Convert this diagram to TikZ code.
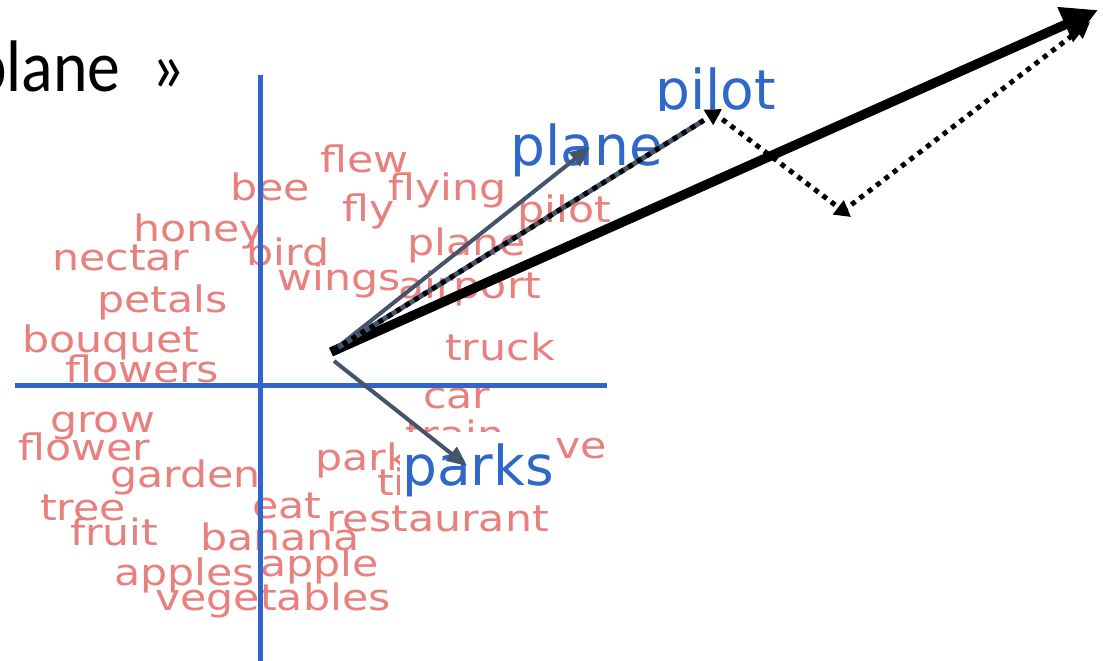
\documentclass[tikz,border=0pt]{standalone}
\usepackage{fontspec}
\usetikzlibrary{arrows.meta,calc}
\newfontfamily\cloudfont[FakeStretch=1.17]{DejaVu Sans}
\newfontfamily\labfont{DejaVu Sans}
\newfontfamily\slidefont[FakeStretch=0.9]{Carlito}
\definecolor{wordred}{RGB}{232,128,126}
\definecolor{labblue}{RGB}{46,104,200}
\definecolor{axisblue}{RGB}{48,102,204}
\definecolor{vecgray}{RGB}{68,84,106}
\begin{document}
\begin{tikzpicture}[x=1pt,y=-1pt,
  cw/.style={font=\cloudfont\fontsize{36.5}{40}\selectfont, text=wordred, anchor=base west, inner sep=0pt},
  lab/.style={font=\labfont\fontsize{55}{60}\selectfont, text=labblue, anchor=base west, inner sep=0pt},
  axisline/.style={draw=axisblue, line width=5pt},
  grayvec/.style={draw=vecgray, line width=4pt, -{Triangle[length=20pt,width=17pt]}},
  dotvec/.style={draw=black, line width=5pt, dash pattern=on 5pt off 5.5pt, -{Triangle[length=16pt,width=17pt]}},
  bigvec/.style={draw=black, line width=9.5pt, -{Triangle[length=36pt,width=36pt]}}
]
\useasboundingbox (0,0) rectangle (1103,661);
\clip (0,0) rectangle (1103,661);
\fill[white] (0,0) rectangle (1103,661);

% slide title fragment
\node[font=\slidefont\fontsize{73}{78}\selectfont, anchor=base west, inner sep=0pt] (title) at (-28,92) {plane\kern31pt»};

% word cloud
\node[cw] (w1) at (320,172) {flew};
\node[cw] (w2) at (230,200) {bee};
\node[cw] (w3) at (388,200) {flying};
\node[cw] (w4) at (342,221) {fly};
\node[cw] (w5) at (517,222) {pilot};
\node[cw] (w6) at (133,241) {honey};
\node[cw] (w7) at (246,265) {bird};
\node[cw] (w8) at (407,255) {plane};
\node[cw] (w9) at (52,270) {nectar};
\node[cw] (w10) at (277,290) {wings};
\node[cw] (w11) at (398,298) {airport};
\node[cw] (w12) at (97,312) {petals};
\node[cw] (w13) at (22,352) {bouquet};
\node[cw] (w14) at (445,360) {truck};
\node[cw] (w15) at (65,382) {flowers};
\node[cw] (w16) at (423,408) {car};
\node[cw] (w17) at (50,432) {grow};
\node[cw] (w18) at (405,447) {train};
\node[cw] (w19) at (18,460) {flower};
\node[cw] (w20) at (555,458) {ve};
\node[cw] (w21) at (315,470) {park};
\node[cw] (w22) at (377,495) {ti};
\node[cw] (w23) at (110,487) {garden};
\node[cw] (w24) at (40,520) {tree};
\node[cw] (w25) at (252,518) {eat};
\node[cw] (w26) at (326,531) {restaurant};
\node[cw] (w27) at (70,545) {fruit};
\node[cw] (w28) at (200,550) {banana};
\node[cw] (w29) at (260,576) {apple};
\node[cw] (w30) at (114,585) {apples};
\node[cw] (w31) at (155,610) {vegetables};

% axes
\coordinate (vtop) at (260,75);
\coordinate (vbot) at (260,661);
\coordinate (hl) at (15,385);
\coordinate (hr) at (607,385);
\draw[axisline] (vtop) -- (vbot);
\draw[axisline] (hl) -- (hr);

% blue labels
\fill[white] (400,432) rectangle (556,500);
\node[lab] (parks) at (402,485) {parks};
\node[lab] (plane) at (510,165) {plane};
\begin{scope}
  \clip (600,40) rectangle (820,110);
  \node[lab] (pilot) at (655,109) {pilot};
\end{scope}

% vectors
\coordinate (o) at (331,352);
\coordinate (o2) at (334,350);
\coordinate (o3) at (334,361);
\coordinate (tplane) at (590,147);
\coordinate (tpilot) at (722,109);
\coordinate (spilot) at (714,113);
\coordinate (corner) at (851,217);
\coordinate (scorner) at (843,211);
\coordinate (tsum) at (1090,22);
\coordinate (tbig) at (1098,10);
\coordinate (tparks) at (467,466);
\coordinate (gpilot) at ($(o2)!0.95!(tpilot)$);

\draw[bigvec] (o) -- (tbig);
\draw[grayvec] (o2) -- (tplane);
\draw[draw=vecgray, line width=5pt] (o2) -- (gpilot);
\draw[dotvec] (o2) -- (tpilot);
\draw[dotvec] (spilot) -- (corner);
\draw[dotvec] (scorner) -- (tsum);
\draw[grayvec] (o3) -- (tparks);
\end{tikzpicture}
\end{document}
